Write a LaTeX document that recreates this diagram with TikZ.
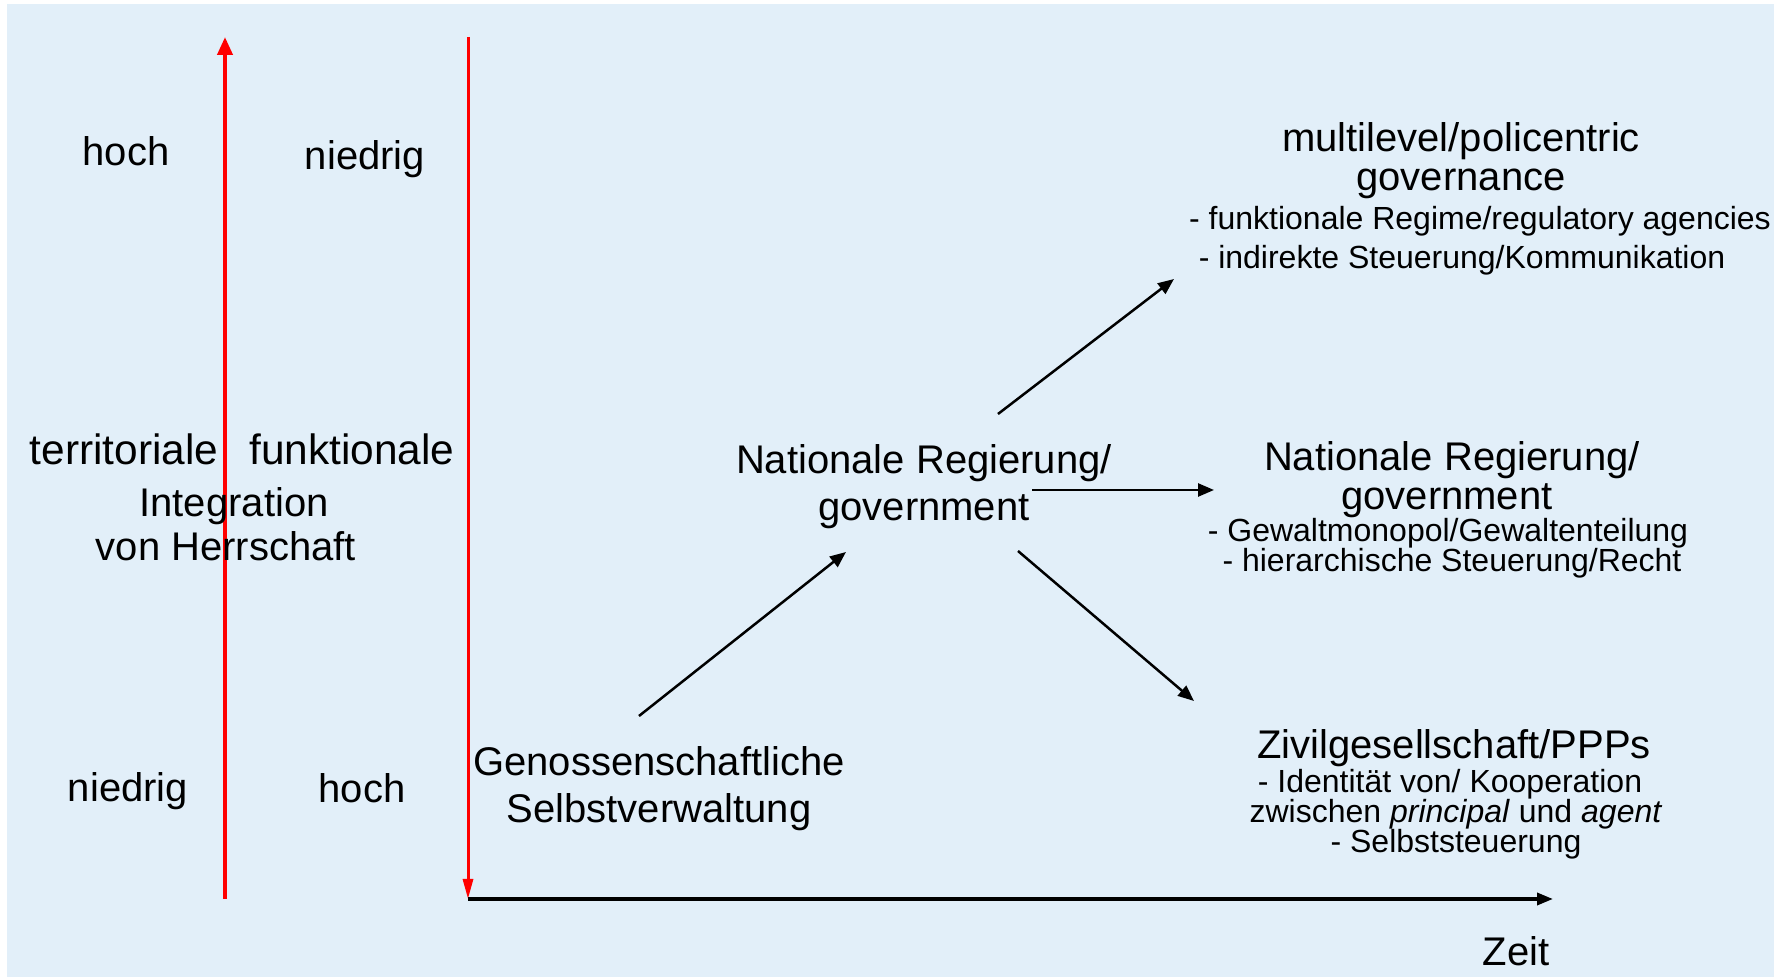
\documentclass[tikz,border=0pt]{standalone}
\usepackage{fontspec}
\setmainfont{Liberation Sans}
\usetikzlibrary{arrows.meta}
\definecolor{bgblue}{RGB}{226,239,249}
\definecolor{axred}{RGB}{255,0,0}
\begin{document}
\begin{tikzpicture}[x=0.5pt,y=-0.5pt,
  big/.style={font=\fontsize{20}{24}\selectfont, inner sep=0pt, anchor=base},
  bigger/.style={font=\fontsize{21.2}{25}\selectfont, inner sep=0pt, anchor=base},
  small/.style={font=\fontsize{16}{19}\selectfont, inner sep=0pt, anchor=base},
  redaxis/.style={draw=axred, line width=2pt},
  conn/.style={draw=black, line width=1.25pt, -{Triangle[length=8pt,width=6.5pt]}}]
\useasboundingbox (0,0) rectangle (1774,977);
\fill[white] (0,0) rectangle (1774,977);
\fill[bgblue] (7,4) rectangle (1774,977);

% axes
\coordinate (upB) at (225,899);
\coordinate (upT) at (225,37);
\coordinate (dnT) at (468,37);
\coordinate (dnB) at (468,899);
\coordinate (zeitE) at (1553,899);
\draw[redaxis, -{Triangle[length=9pt,width=7.5pt]}] (upB) -- (upT);
\draw[redaxis, line width=1.5pt, -{Triangle[length=10pt,width=5pt]}] (dnT) -- (dnB);
\draw[line width=1.75pt, -{Triangle[length=8pt,width=6pt]}] (dnB) -- (zeitE);

% left labels
\node[big] (hochT) at (126,166) {hoch};
\node[big] (niedT) at (365,170) {niedrig};
\node[bigger] (terr) at (124,465) {territoriale};
\node[bigger] (funk) at (352,465) {funktionale};
\node[big] (integ) at (234,517) {Integration};
\node[big] (herr) at (226,561) {von Herrschaft};
\node[big] (niedB) at (128,802) {niedrig};
\node[big] (hochB) at (362,803) {hoch};

% start
\node[big] (gen1) at (659,776) {Genossenschaftliche};
\node[big] (gen2) at (659,823) {Selbstverwaltung};

% middle
\node[big] (nat1) at (924,474) {Nationale Regierung/};
\node[big] (nat2) at (924,521) {government};

% right top
\node[big] (mg1) at (1461,152) {multilevel/policentric};
\node[big] (mg2) at (1461,191) {governance};
\node[small] (mg3) at (1480,230) {- funktionale Regime/regulatory agencies};
\node[small] (mg4) at (1462,269) {- indirekte Steuerung/Kommunikation};

% right middle
\node[big] (rn1) at (1452,471) {Nationale Regierung/};
\node[big] (rn2) at (1447,510) {government};
\node[small] (rn3) at (1448,542) {- Gewaltmonopol/Gewaltenteilung};
\node[small] (rn4) at (1452,572) {- hierarchische Steuerung/Recht};

% right bottom
\node[big] (zg1) at (1454,759) {Zivilgesellschaft/PPPs};
\node[small] (zg2) at (1450,793) {- Identität von/ Kooperation};
\node[small] (zg3) at (1456,823) {zwischen \textit{principal} und \textit{agent}};
\node[small] (zg4) at (1456,853) {- Selbststeuerung};

\node[big] (zeit) at (1516,966) {Zeit};

% connectors
\coordinate (a1s) at (639,716);
\coordinate (a1e) at (846,552);
\coordinate (a2s) at (998,414);
\coordinate (a2e) at (1174,279);
\coordinate (a3s) at (1032,490);
\coordinate (a3e) at (1214,490);
\coordinate (a4s) at (1018,551);
\coordinate (a4e) at (1194,701);
\draw[conn] (a1s) -- (a1e);
\draw[conn] (a2s) -- (a2e);
\draw[conn] (a3s) -- (a3e);
\draw[conn] (a4s) -- (a4e);
\end{tikzpicture}
\end{document}
